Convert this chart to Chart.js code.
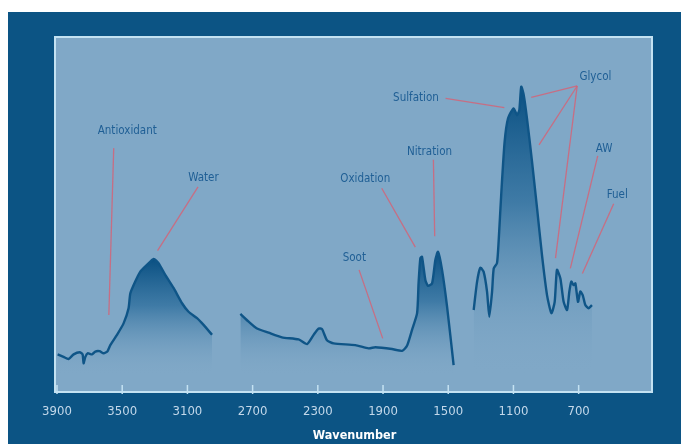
<!DOCTYPE html>
<html>
<head>
<meta charset="utf-8">
<script src="https://cdn.jsdelivr.net/npm/chart.js@4/dist/chart.umd.min.js"></script>
<style>
  html, body { margin: 0; padding: 0; background: #ffffff; }
  #wrap { width: 681px; height: 444px; }
</style>
</head>
<body>
<div id="wrap"><canvas id="c" width="681" height="444"></canvas></div>
<script>
// ---- Data (wavenumber, cm-1 ; relative absorbance) ----
const tickLabels = [3900, 3500, 3100, 2700, 2300, 1900, 1500, 1100, 700];

const seg1Wave = [3896, 3860, 3829, 3798, 3761, 3743, 3737, 3726, 3712, 3685, 3665, 3639, 3614, 3590, 3573, 3532, 3491, 3461, 3450, 3420, 3389, 3348, 3307, 3277, 3236, 3185, 3133, 3093, 3041, 3001, 2949];
const seg1Abs  = [10.6, 9.9, 9.3, 10.6, 11.2, 10.6, 8.1, 9.9, 10.9, 10.6, 11.4, 11.5, 10.9, 11.5, 13.2, 16.1, 19.4, 23.6, 27.8, 31.1, 33.9, 35.8, 37.5, 36.3, 33.0, 29.3, 25.0, 22.6, 20.8, 18.9, 16.1];

const seg2Wave = [2775, 2724, 2673, 2602, 2520, 2418, 2366, 2326, 2295, 2274, 2244, 2203, 2070, 1988, 1947, 1845, 1783, 1753, 1722, 1691, 1682, 1671, 1661, 1640, 1624, 1599, 1579, 1563, 1538, 1507, 1467];
const seg2Abs  = [22.0, 19.8, 17.9, 16.7, 15.4, 14.8, 13.5, 16.1, 17.9, 17.7, 14.6, 13.7, 13.2, 12.3, 12.6, 12.1, 11.6, 13.0, 17.5, 22.2, 30.6, 37.7, 38.1, 31.5, 29.9, 30.6, 37.2, 39.5, 34.4, 24.0, 7.6];

const seg3Wave = [1344, 1323, 1303, 1283, 1262, 1248, 1231, 1221, 1201, 1191, 1174, 1154, 1133, 1099, 1078, 1064, 1052, 1037, 1017, 986, 955, 925, 894, 867, 847, 833, 812, 792, 771, 757, 745, 731, 720, 704, 690, 675, 659, 639, 618];
const seg3Abs  = [23.1, 31.1, 35.0, 33.9, 28.3, 21.2, 28.3, 34.8, 36.3, 42.3, 56.4, 70.5, 77.1, 79.9, 78.0, 79.4, 86.0, 83.7, 77.1, 64.9, 51.7, 38.6, 27.3, 22.2, 25.4, 34.4, 32.0, 25.4, 23.1, 28.3, 31.1, 30.1, 30.6, 25.4, 28.3, 27.3, 24.5, 23.6, 24.5];

// ---- Annotations (label anchor and leader lines, in data units) ----
const annLabels   = ['Antioxidant', 'Water', 'Oxidation', 'Nitration', 'Soot', 'Sulfation', 'Glycol', 'AW', 'Fuel'];
const annTextWave = [3469, 3002, 2009, 1615, 2076, 1698, 597, 544, 463];
const annTextAbs  = [73.5, 60.3, 60.0, 67.5, 37.7, 82.9, 88.6, 68.5, 55.5];
// leader lines: [fromWave, fromAbs, toWave, toAbs]
const annLines = [
  [3552, 68.7, 3582, 21.7],
  [3035, 57.8, 3283, 39.8],
  [1908, 57.4, 1702, 40.8],
  [1591, 65.4, 1583, 43.9],
  [2047, 34.4, 1902, 15.1],
  [1516, 82.7, 1156, 80.1],
  [709, 86.2, 991, 83.0],
  [709, 86.2, 943, 69.6],
  [709, 86.2, 842, 37.7],
  [583, 66.5, 751, 34.8],
  [485, 53.0, 677, 33.4]
];

const FONT = "'Liberation Sans Narrow', 'DejaVu Sans Condensed', 'Liberation Sans', sans-serif";

function pts(w, a) { return w.map((v, i) => ({ x: v, y: a[i] })); }

function fillGradient(ctx) {
  const chart = ctx.chart;
  const area = chart.chartArea;
  if (!area) return 'rgba(20,90,140,0.5)';
  const ys = chart.scales.y;
  const ds = chart.data.datasets[ctx.datasetIndex];
  const maxV = Math.max(...ds.data.map(p => p.y));
  const top = ys.getPixelForValue(maxV);
  const bottom = area.bottom - 16;
  const g = chart.ctx.createLinearGradient(0, top, 0, bottom);
  g.addColorStop(0, 'rgba(10,80,130,1)');
  g.addColorStop(0.4, 'rgba(28,98,148,0.65)');
  g.addColorStop(1, 'rgba(128,168,198,0)');
  return g;
}

const lineStyle = {
  borderColor: '#0f5587',
  borderWidth: 2.4,
  pointRadius: 0,
  tension: 0.2,
  fill: 'origin',
  backgroundColor: fillGradient
};

const bgPlugin = {
  id: 'bg',
  beforeDraw(chart) {
    const c = chart.ctx, a = chart.chartArea;
    c.save();
    c.fillStyle = '#ffffff';
    c.fillRect(0, 0, chart.width, chart.height);
    c.fillStyle = '#0c5484';
    c.fillRect(8, 12, chart.width - 8, chart.height - 12);
    c.fillStyle = '#80a8c7';
    c.fillRect(a.left - 2, a.top, a.right - a.left + 2, a.bottom - a.top);
    c.restore();
  },
  afterDraw(chart) {
    const c = chart.ctx, a = chart.chartArea, xs = chart.scales.x, ys = chart.scales.y;
    c.save();
    // panel border
    c.strokeStyle = '#c4e2f2';
    c.lineWidth = 2;
    c.strokeRect(a.left - 2, a.top, a.right - a.left + 2, a.bottom - a.top);
    // tick marks pointing inward
    c.strokeStyle = '#c4e2f2';
    c.lineWidth = 1.5;
    xs.ticks.forEach(t => {
      const x = xs.getPixelForValue(t.value);
      c.beginPath();
      c.moveTo(x, a.bottom - 7);
      c.lineTo(x, a.bottom + 2);
      c.stroke();
    });
    // leader lines
    c.strokeStyle = 'rgba(210,100,120,0.85)';
    c.lineWidth = 1.3;
    annLines.forEach(l => {
      c.beginPath();
      c.moveTo(xs.getPixelForValue(l[0]), ys.getPixelForValue(l[1]));
      c.lineTo(xs.getPixelForValue(l[2]), ys.getPixelForValue(l[3]));
      c.stroke();
    });
    // labels
    c.fillStyle = '#1f5f95';
    c.font = '11.5px ' + FONT;
    c.textAlign = 'center';
    c.textBaseline = 'middle';
    annLabels.forEach((t, i) => {
      c.fillText(t, xs.getPixelForValue(annTextWave[i]), ys.getPixelForValue(annTextAbs[i]));
    });
    c.restore();
  }
};

new Chart(document.getElementById('c'), {
  type: 'line',
  data: {
    datasets: [
      Object.assign({ label: 'seg1', data: pts(seg1Wave, seg1Abs) }, lineStyle),
      Object.assign({ label: 'seg2', data: pts(seg2Wave, seg2Abs) }, lineStyle),
      Object.assign({ label: 'seg3', data: pts(seg3Wave, seg3Abs) }, lineStyle)
    ]
  },
  options: {
    responsive: false,
    animation: false,
    devicePixelRatio: 1,
    layout: { padding: { left: 57, right: 29, top: 37, bottom: 0 } },
    plugins: { legend: { display: false }, tooltip: { enabled: false } },
    scales: {
      x: {
        type: 'linear',
        reverse: true,
        min: 250,
        max: 3900,
        afterBuildTicks: s => { s.ticks = tickLabels.map(v => ({ value: v })); },
        afterFit: s => { s.height = 52; },
        grid: { display: false, drawTicks: false },
        border: { display: false },
        ticks: {
          color: '#c3d8ea',
          font: { family: FONT, size: 13 },
          padding: 12,
          autoSkip: false,
          maxRotation: 0,
          callback: v => String(v)
        },
        title: {
          display: true,
          text: 'Wavenumber',
          color: '#ffffff',
          font: { family: FONT, size: 12.5, weight: 'bold' },
          padding: { top: 0, bottom: 1 }
        }
      },
      y: { display: false, min: 0, max: 100 }
    }
  },
  plugins: [bgPlugin]
});
</script>
</body>
</html>
